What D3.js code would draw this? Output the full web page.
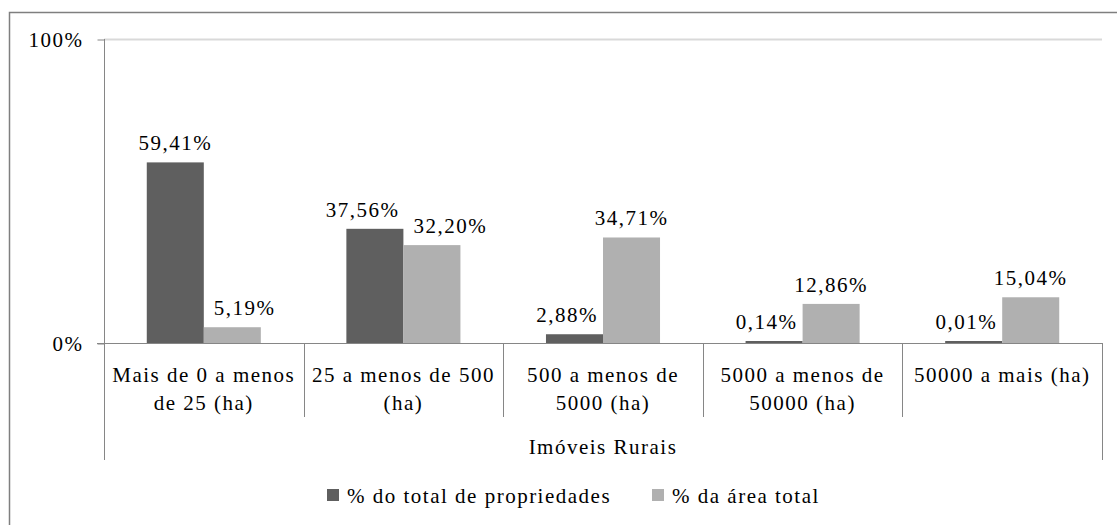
<!DOCTYPE html>
<html lang="pt">
<head>
    <meta charset="utf-8">
    <script src="https://d3js.org/d3.v7.min.js"></script>
    <style>
        body { margin: 0; background: #fff; }
    </style>
</head>
<body>
    <div id="chart"></div>
    <script>
        // categorias e valores
        var categories = [
            ["Mais de 0 a menos", "de 25 (ha)"],
            ["25 a menos de 500", "(ha)"],
            ["500 a menos de", "5000 (ha)"],
            ["5000 a menos de", "50000 (ha)"],
            ["50000 a mais (ha)"]
        ];
        var seriesNames = ["% do total de propriedades", "% da área total"];
        var propriedades = [59.41, 37.56, 2.88, 0.14, 0.01];
        var area = [5.19, 32.20, 34.71, 12.86, 15.04];
        var yTicks = [0, 100];
        var axisTitle = "Imóveis Rurais";

        var colors = ["#5f5f5f", "#b0b0b0"];
        var font = "'Liberation Serif', 'Times New Roman', Tinos, 'DejaVu Serif', serif";
        var fontSize = 21,
            spacing = "1.5px";

        var width = 1117,
            height = 525;
        var margin = { top: 39, right: 15, bottom: 182, left: 104 };

        var svg = d3.select("#chart").append("svg")
            .attr("width", width)
            .attr("height", height)
            .attr("font-family", font)
            .attr("font-size", fontSize)
            .attr("letter-spacing", spacing);

        // moldura externa
        svg.append("rect")
            .attr("x", 9.5).attr("y", 12.5)
            .attr("width", width).attr("height", height)
            .attr("fill", "none")
            .attr("stroke", "#7f7f7f")
            .attr("stroke-width", 1.5);

        var x = d3.scaleBand()
            .domain(d3.range(categories.length))
            .range([margin.left, 1102]);

        var xInner = d3.scaleBand()
            .domain([0, 1])
            .range([0, x.bandwidth()])
            .paddingOuter(0.75);

        var y = d3.scaleLinear()
            .domain([0, 100])
            .range([343, margin.top]);

        // linha de grade em 100%
        svg.append("g")
            .selectAll("line")
            .data(yTicks.filter(d => d > 0))
            .join("line")
            .attr("x1", margin.left).attr("x2", x.range()[1])
            .attr("y1", d => y(d) + 0.5).attr("y2", d => y(d) + 0.5)
            .attr("stroke", "#d9d9d9")
            .attr("stroke-width", 2);

        // eixo y
        var yAxis = svg.append("g")
            .attr("transform", `translate(${margin.left + 0.5},0.5)`)
            .call(d3.axisLeft(y).tickValues(yTicks).tickSize(7).tickPadding(14)
                .tickFormat(d => d + "%"));
        yAxis.attr("font-family", font).attr("font-size", fontSize);
        yAxis.select(".domain").remove();
        yAxis.selectAll(".tick line").attr("stroke", "#868686");
        yAxis.selectAll(".tick text").attr("fill", "#000");

        svg.append("line")
            .attr("x1", margin.left + 0.5).attr("x2", margin.left + 0.5)
            .attr("y1", y(100)).attr("y2", 460)
            .attr("stroke", "#868686");

        // barras
        var data = categories.map((c, i) => ({ i: i, values: [propriedades[i], area[i]] }));
        var barTop = v => Math.min(y(v), y(0) - 2);

        var groups = svg.append("g")
            .selectAll("g")
            .data(data)
            .join("g")
            .attr("transform", d => `translate(${x(d.i)},0)`);

        groups.selectAll("rect")
            .data(d => d.values.map((v, k) => ({ k: k, v: v })))
            .join("rect")
            .attr("x", d => xInner(d.k))
            .attr("width", xInner.bandwidth())
            .attr("y", d => barTop(d.v))
            .attr("height", d => y(0) - barTop(d.v))
            .attr("fill", (d) => colors[d.k]);

        groups.each(function(g) {
            var labels = d3.select(this).selectAll("text")
                .data(d => d.values.map((v, k) => ({ k: k, v: v })))
                .join("text")
                .attr("x", d => xInner(d.k) + xInner.bandwidth() / 2)
                .attr("y", d => barTop(d.v) - 12)
                .attr("text-anchor", "middle")
                .text(d => d3.format(".2f")(d.v).replace(".", ",") + "%");

            // afasta o rotulo da barra vizinha quando ela e mais alta (como o Excel)
            labels.each(function(d) {
                var b = this.getBBox();
                var other = 1 - d.k;
                var otherTop = barTop(g.values[other]);
                if (b.y + b.height <= otherTop) return;
                var cx = +this.getAttribute("x");
                if (d.k === 1) {
                    var edge = xInner(0) + xInner.bandwidth() + 10;
                    if (b.x < edge) this.setAttribute("x", cx + (edge - b.x));
                } else {
                    var edge2 = xInner(1) - 5;
                    if (b.x + b.width > edge2) this.setAttribute("x", cx - (b.x + b.width - edge2));
                }
            });

            // e separa os dois rotulos entre si
            var n = labels.nodes();
            var a = n[0].getBBox(), c = n[1].getBBox();
            var gap = c.x - (a.x + a.width);
            if (a.y < c.y + c.height && c.y < a.y + a.height && gap < 14) {
                n[0].setAttribute("x", +n[0].getAttribute("x") - (14 - gap));
            }
        });

        // linha zero
        svg.append("line")
            .attr("x1", margin.left - 7).attr("x2", x.range()[1])
            .attr("y1", y(0) + 0.5).attr("y2", y(0) + 0.5)
            .attr("stroke", "#868686");

        // separadores das categorias
        var seps = d3.range(categories.length + 1).map(i => margin.left + i * x.step());
        svg.append("g")
            .selectAll("line")
            .data(seps)
            .join("line")
            .attr("x1", d => Math.round(d) + 0.5).attr("x2", d => Math.round(d) + 0.5)
            .attr("y1", y(0))
            .attr("y2", (d, i) => (i === 0 || i === categories.length) ? 460 : 417)
            .attr("stroke", "#868686");

        // rotulos das categorias
        svg.append("g")
            .selectAll("text")
            .data(categories)
            .join("text")
            .attr("x", (d, i) => x(i) + x.bandwidth() / 2)
            .attr("y", 382)
            .attr("text-anchor", "middle")
            .selectAll("tspan")
            .data(d => d)
            .join("tspan")
            .attr("x", function() { return this.parentNode.getAttribute("x"); })
            .attr("dy", (d, i) => i === 0 ? 0 : 28)
            .text(d => d);

        svg.append("text")
            .attr("x", (margin.left + x.range()[1]) / 2)
            .attr("y", 454)
            .attr("text-anchor", "middle")
            .text(axisTitle);

        // legenda
        var legendX = [327, 652];
        var legend = svg.append("g")
            .selectAll("g")
            .data(seriesNames)
            .join("g")
            .attr("transform", (d, i) => `translate(${legendX[i]},489)`);

        legend.append("rect")
            .attr("width", 12).attr("height", 12)
            .attr("fill", (d, i) => colors[i]);

        legend.append("text")
            .attr("x", 20).attr("y", 14)
            .text(d => d);
    </script>
</body>
</html>
